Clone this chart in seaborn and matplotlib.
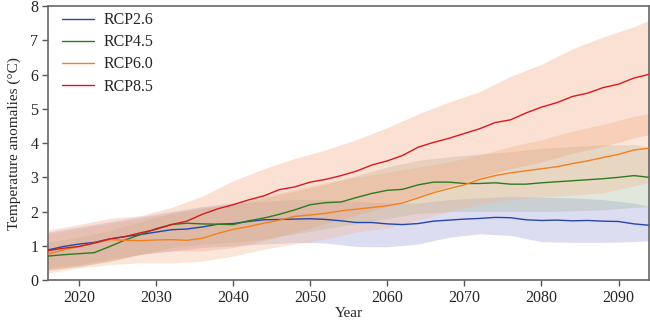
import matplotlib
matplotlib.use("Agg")
import matplotlib.pyplot as plt
import seaborn as sns
import pandas as pd

# ---------------- data ----------------
years = list(range(2016, 2095, 2))

rcp26 = [0.88, 0.98, 1.05, 1.10, 1.20, 1.27, 1.33, 1.40, 1.47, 1.49,
         1.55, 1.63, 1.65, 1.71, 1.76, 1.77, 1.78, 1.79, 1.77, 1.73,
         1.68, 1.68, 1.64, 1.62, 1.65, 1.72, 1.75, 1.78, 1.80, 1.83,
         1.82, 1.76, 1.74, 1.75, 1.73, 1.74, 1.72, 1.71, 1.64, 1.60]
rcp45 = [0.70, 0.74, 0.77, 0.80, 0.98, 1.17, 1.33, 1.50, 1.62, 1.66,
         1.64, 1.63, 1.62, 1.73, 1.81, 1.92, 2.05, 2.20, 2.26, 2.28,
         2.41, 2.53, 2.62, 2.65, 2.78, 2.86, 2.86, 2.82, 2.82, 2.84,
         2.80, 2.80, 2.84, 2.87, 2.90, 2.93, 2.96, 3.00, 3.05, 3.00]
rcp60 = [0.76, 0.88, 0.98, 1.08, 1.18, 1.16, 1.15, 1.17, 1.18, 1.16,
         1.22, 1.36, 1.48, 1.56, 1.66, 1.75, 1.86, 1.90, 1.95, 2.02,
         2.07, 2.12, 2.17, 2.25, 2.40, 2.55, 2.67, 2.78, 2.94, 3.05,
         3.13, 3.19, 3.25, 3.31, 3.40, 3.48, 3.58, 3.67, 3.80, 3.85]
rcp85 = [0.86, 0.93, 0.98, 1.08, 1.20, 1.27, 1.38, 1.48, 1.62, 1.72,
         1.92, 2.08, 2.20, 2.34, 2.46, 2.64, 2.72, 2.86, 2.94, 3.05,
         3.18, 3.36, 3.48, 3.64, 3.88, 4.02, 4.14, 4.28, 4.42, 4.60,
         4.68, 4.88, 5.05, 5.18, 5.36, 5.46, 5.62, 5.72, 5.90, 6.01]

band_years = [2016, 2020, 2024, 2028, 2032, 2036, 2040, 2044, 2048, 2052, 2056,
              2060, 2064, 2068, 2072, 2076, 2080, 2084, 2088, 2092, 2094]

rcp26_low = [0.35, 0.45, 0.60, 0.75, 0.85, 0.95, 1.00, 1.05, 1.10, 1.08, 0.98,
             0.97, 1.05, 1.25, 1.35, 1.30, 1.12, 1.10, 1.10, 1.12, 1.15]
rcp26_high = [1.40, 1.55, 1.70, 1.85, 2.00, 2.15, 2.25, 2.30, 2.35, 2.35, 2.30,
              2.25, 2.25, 2.35, 2.40, 2.45, 2.42, 2.40, 2.35, 2.25, 2.15]
rcp45_low = [0.30, 0.40, 0.55, 0.75, 0.95, 1.05, 1.10, 1.20, 1.35, 1.50, 1.65,
             1.80, 1.95, 2.00, 2.00, 2.00, 2.00, 2.02, 2.05, 2.12, 2.15]
rcp45_high = [1.10, 1.25, 1.45, 1.70, 1.95, 2.10, 2.20, 2.40, 2.60, 2.80, 3.05,
              3.30, 3.50, 3.60, 3.68, 3.75, 3.85, 3.90, 3.95, 3.95, 3.90]
rcp60_low = [0.20, 0.35, 0.45, 0.50, 0.50, 0.55, 0.70, 0.90, 1.05, 1.20, 1.40,
             1.52, 1.75, 2.00, 2.20, 2.35, 2.42, 2.48, 2.55, 2.75, 2.85]
rcp60_high = [1.35, 1.50, 1.65, 1.80, 1.95, 2.10, 2.25, 2.45, 2.65, 2.85, 3.00,
              3.15, 3.30, 3.45, 3.65, 3.90, 4.10, 4.35, 4.55, 4.78, 4.87]
rcp85_low = [0.28, 0.40, 0.55, 0.75, 0.85, 0.85, 0.95, 1.15, 1.40, 1.65, 1.90,
             2.15, 2.45, 2.75, 3.00, 3.25, 3.45, 3.70, 3.90, 4.15, 4.25]
rcp85_high = [1.46, 1.62, 1.80, 1.88, 2.12, 2.45, 2.90, 3.25, 3.55, 3.80, 4.10,
              4.45, 4.85, 5.20, 5.50, 5.95, 6.30, 6.75, 7.10, 7.40, 7.59]

scenarios = ["RCP2.6", "RCP4.5", "RCP6.0", "RCP8.5"]
x_ticks = [2020, 2030, 2040, 2050, 2060, 2070, 2080, 2090]
y_ticks = [0, 1, 2, 3, 4, 5, 6, 7, 8]

# ---------------- style ----------------
sns.set_theme(style="ticks")
plt.rcParams["font.family"] = ["Liberation Serif", "DejaVu Serif"]

line_colors = {"RCP2.6": "#2447a8", "RCP4.5": "#2f7a1f",
               "RCP6.0": "#f47f1c", "RCP8.5": "#d9191f"}
band_colors = {"RCP2.6": "#9191d4", "RCP4.5": "#9eb291",
               "RCP6.0": "#f5b284", "RCP8.5": "#f29b73"}

means = {"RCP2.6": rcp26, "RCP4.5": rcp45, "RCP6.0": rcp60, "RCP8.5": rcp85}
lows = {"RCP2.6": rcp26_low, "RCP4.5": rcp45_low, "RCP6.0": rcp60_low, "RCP8.5": rcp85_low}
highs = {"RCP2.6": rcp26_high, "RCP4.5": rcp45_high, "RCP6.0": rcp60_high, "RCP8.5": rcp85_high}

rows = []
for s in scenarios:
    for y, v in zip(years, means[s]):
        rows.append({"Year": y, "Value": v, "Scenario": s})
df = pd.DataFrame(rows)

fig = plt.figure(figsize=(6.5, 3.23), dpi=100)
ax = fig.add_axes([0.074, 0.133, 0.925, 0.848])

for s in scenarios:
    ax.fill_between(band_years, lows[s], highs[s], color=band_colors[s],
                    alpha=0.3, linewidth=0, zorder=1)

sns.lineplot(data=df, x="Year", y="Value", hue="Scenario", hue_order=scenarios,
             palette=line_colors, linewidth=1.0, ax=ax, zorder=3)

ax.set_xlim(2016, 2094)
ax.set_ylim(0, 8)
ax.set_xticks(x_ticks)
ax.set_yticks(y_ticks)
ax.set_xlabel("Year", fontsize=11, labelpad=1)
ax.set_ylabel("Temperature anomalies (°C)", fontsize=11, labelpad=7)
ax.tick_params(axis="both", labelsize=11.5, direction="out", length=4,
               width=1.0, color="#555555", pad=3)
for sp in ax.spines.values():
    sp.set_color("#666666")
    sp.set_linewidth(1.2)

leg = ax.legend(loc="upper left", frameon=False, fontsize=11.5,
                handlelength=2.0, handletextpad=0.55, labelspacing=0.38,
                bbox_to_anchor=(0.0, 1.03))
leg.set_title(None)

fig.savefig("out.png", dpi=100)
